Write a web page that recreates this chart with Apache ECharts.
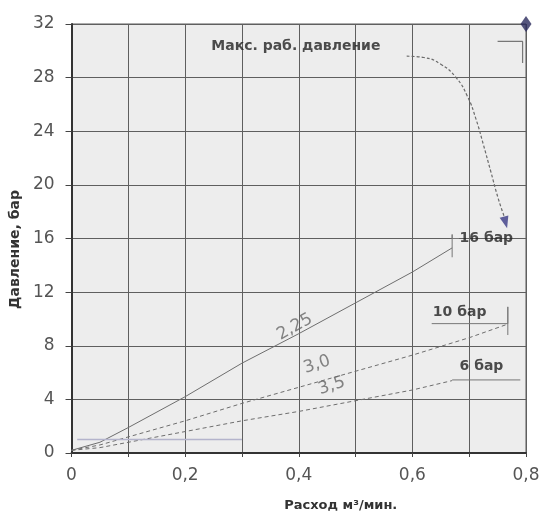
<!DOCTYPE html>
<html>
<head>
<meta charset="utf-8">
<script src="https://cdn.jsdelivr.net/npm/echarts@6/dist/echarts.min.js"></script>
<style>
html,body{margin:0;padding:0;background:#fff;}
#c{width:543px;height:517px;}
</style>
</head>
<body>
<div id="c"></div>
<script>
// ---- data (flow m3/min, pressure bar) ----
const line225 = [[0,0.2],[0.05,0.8],[0.1,1.9],[0.2,4.2],[0.3,6.7],[0.4,8.9],[0.5,11.2],[0.6,13.5],[0.67,15.3]];
const line30  = [[0,0.2],[0.05,0.6],[0.1,1.2],[0.2,2.4],[0.3,3.7],[0.4,4.9],[0.5,6.1],[0.6,7.3],[0.7,8.6],[0.767,9.6]];
const line35  = [[0,0.2],[0.05,0.4],[0.1,0.8],[0.2,1.6],[0.3,2.4],[0.4,3.1],[0.5,3.9],[0.6,4.7],[0.67,5.4]];
const flatLine = [[0.01,1.0],[0.3,1.0]];
const maxPoint = [[0.8,32]];
const arrowPath = [[0.59,29.6],[0.62,29.5],[0.65,29.0],[0.677,28.0],[0.697,26.6],[0.712,24.9],[0.725,23.0],[0.738,21.0],[0.751,19.0],[0.762,17.6]];
const arrowHead = [[0.764,17.2]];
// label brackets
const bracketMax = [[0.75,30.7],[0.794,30.7],[0.794,29.1]];
const bracket16 = [[0.67,14.6],[0.67,16.3],[0.67,16.0],[0.682,16.0]];
const bracket10 = [[0.634,9.65],[0.768,9.65],[0.768,10.9],[0.768,8.8]];
const bracket6  = [[0.67,5.45],[0.79,5.45]];
// text annotations: [x, y, text]
const boldNotes = [[0.246,30.3,'Макс. раб. давление'],[0.683,16.0,'16 бар'],[0.636,10.5,'10 бар'],[0.683,6.5,'6 бар']];
const ratioNotes = [[0.393,9.4,'2,25',29],[0.432,6.6,'3,0',18],[0.458,5.0,'3,5',18]];
const xTickLabels = {'0':'0','0.2':'0,2','0.4':'0,4','0.6':'0,6','0.8':'0,8'};

const chart = echarts.init(document.getElementById('c'), null, {renderer:'canvas'});
const lineCol = '#6e6e6e';
function seg(data, extra){
  return Object.assign({type:'line', data:data, showSymbol:false, symbol:'none', silent:true,
    lineStyle:{color:lineCol, width:1}, z:3, animation:false, clip:false}, extra||{});
}
const option = {
  animation:false,
  backgroundColor:'#ffffff',
  grid:{left:71, right:17, top:24, bottom:63, show:true, backgroundColor:'#ededed', borderColor:'#5a5a5a', borderWidth:1},
  xAxis:{type:'value', min:0, max:0.8, interval:0.1,
    name:'Расход м³/мин.', nameLocation:'middle', nameGap:46,
    nameTextStyle:{fontFamily:'DejaVu Sans', fontSize:13, fontWeight:'bold', color:'#333', padding:[0,0,0,84]},
    axisLine:{show:true, lineStyle:{color:'#333', width:2}},
    axisTick:{show:true, length:4, lineStyle:{color:'#444'}},
    axisLabel:{margin:14, fontFamily:'DejaVu Sans', fontSize:17, color:'#555',
      formatter:function(v){ const k = String(Math.round(v*10)/10); return xTickLabels[k] !== undefined ? xTickLabels[k] : ''; }},
    splitLine:{show:true, lineStyle:{color:'#5f5f5f', width:1}}
  },
  yAxis:{type:'value', min:0, max:32, interval:4,
    name:'Давление, бар', nameLocation:'middle', nameGap:45,
    nameTextStyle:{fontFamily:'DejaVu Sans', fontSize:14, fontWeight:'bold', color:'#333', padding:[0,22,0,0]},
    axisLine:{show:true, lineStyle:{color:'#333', width:2}},
    axisTick:{show:true, length:6, lineStyle:{color:'#444'}},
    axisLabel:{margin:17, fontFamily:'DejaVu Sans', fontSize:17, color:'#555'},
    splitLine:{show:true, lineStyle:{color:'#5f5f5f', width:1}}
  },
  series:[
    seg(line225),
    seg(line30, {lineStyle:{color:lineCol, width:1, type:[4,3]}}),
    seg(line35, {lineStyle:{color:lineCol, width:1, type:[4,3]}}),
    seg(flatLine, {lineStyle:{color:'#b4b4cc', width:1.5}}),
    seg(bracketMax, {lineStyle:{color:'#777', width:1.2}}),
    seg(bracket16, {lineStyle:{color:'#777', width:1}}),
    seg(bracket10, {lineStyle:{color:'#777', width:1}}),
    seg(bracket6, {lineStyle:{color:'#777', width:1}}),
    seg(arrowPath, {smooth:0.5, lineStyle:{color:'#6a6a6a', width:1.2, type:[3,2]}}),
    {type:'scatter', data:arrowHead, symbol:'triangle', symbolSize:[9,12], symbolRotate:195,
      itemStyle:{color:'#3a3a86'}, z:5, silent:true, clip:false},
    {type:'scatter', data:maxPoint, symbol:'diamond', symbolSize:[11,16],
      itemStyle:{color:'#2a2a5c'}, z:6, silent:true, clip:false},
    {type:'scatter', data:boldNotes.map(d=>({value:[d[0],d[1]], name:d[2]})), symbolSize:0, z:7, silent:true,
      label:{show:true, position:'inside', formatter:p=>p.name, align:'left', verticalAlign:'middle',
        fontFamily:'DejaVu Sans', fontSize:14, fontWeight:'bold', color:'#222'}},
    {type:'scatter', data:ratioNotes.map(d=>({value:[d[0],d[1]], name:d[2], label:{rotate:d[3]}})), symbolSize:0, z:7, silent:true,
      label:{show:true, position:'inside', formatter:p=>p.name, align:'center', verticalAlign:'middle',
        fontFamily:'DejaVu Sans', fontSize:17, color:'#666'}}
  ]
};
chart.setOption(option);
</script>
</body>
</html>
